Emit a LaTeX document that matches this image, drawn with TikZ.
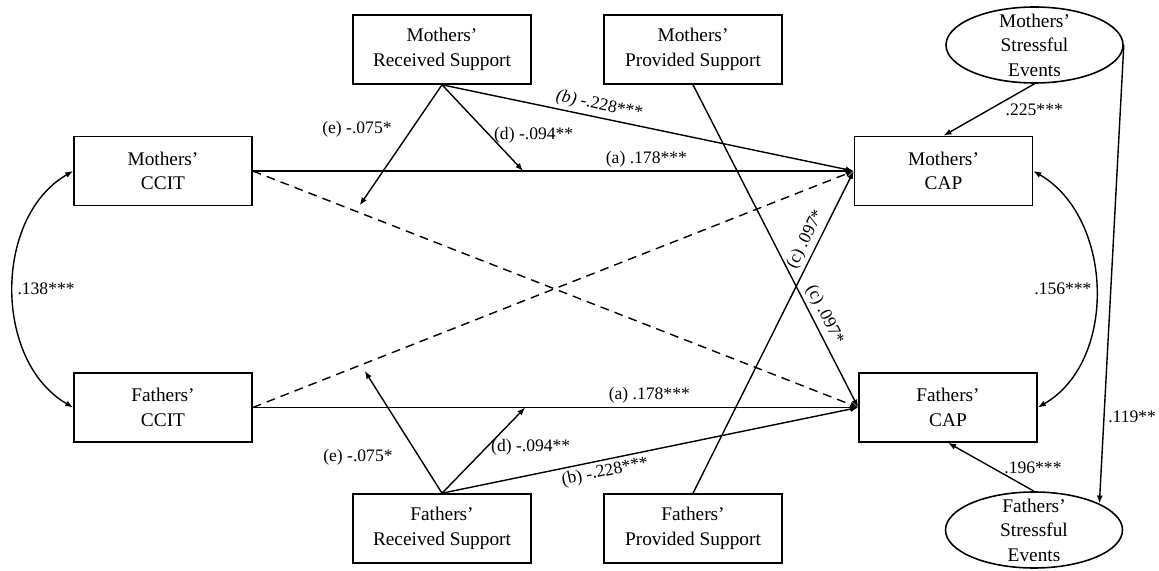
\documentclass[tikz,border=0pt]{standalone}
\usepackage{fontspec}
\setmainfont{Liberation Serif}
\usetikzlibrary{arrows.meta, positioning, calc, shapes.geometric}

\begin{document}
\begin{tikzpicture}[font=\fontsize{11}{14}\selectfont,
    eff/.style={-{Latex[length=1.6mm,width=1.2mm]}, line width=0.8pt},
    effd/.style={eff, dash pattern=on 5pt off 3.5pt},
    covar/.style={{Latex[length=1.6mm,width=1.2mm]}-{Latex[length=1.6mm,width=1.2mm]}, line width=0.8pt},
    lab/.style={font=\fontsize{10}{12}\selectfont, inner sep=2pt},
    obs/.style={draw, line width=0.9pt, align=center,
                minimum width=3.56cm, minimum height=1.38cm, inner sep=2pt},
    lat/.style={draw, ellipse, line width=0.9pt, align=center,
                minimum width=3.54cm, minimum height=1.52cm, inner sep=-6pt}]

  \useasboundingbox (0,0) rectangle (23.18,11.4);

  \node[obs] (mccit) at (3.26,7.98)   {Mothers'\\CCIT};
  \node[obs] (fccit) at (3.26,3.25)   {Fathers'\\CCIT};
  \node[obs] (mrs)   at (8.84,10.41)  {Mothers'\\Received Support};
  \node[obs] (mps)   at (13.86,10.41) {Mothers'\\Provided Support};
  \node[obs] (frs)   at (8.84,0.83)   {Fathers'\\Received Support};
  \node[obs] (fps)   at (13.86,0.83)  {Fathers'\\Provided Support};
  \node[obs] (mcap)  at (18.87,7.98)  {Mothers'\\CAP};
  \node[obs] (fcap)  at (18.96,3.25)  {Fathers'\\CAP};
  \node[lat] (mse)   at (20.69,10.5)  {Mothers'\\Stressful\\Events};
  \node[lat] (fse)   at (20.68,0.8)   {Fathers'\\Stressful\\Events};

  \coordinate (md) at ($(mccit.east)!0.45!(mcap.west)$);
  \coordinate (fd) at ($(fccit.east)!0.45!(fcap.west)$);
  \coordinate (me) at ($(mccit.east)!0.17!(fcap.west)$);
  \coordinate (fe) at ($(fccit.east)!0.18!(mcap.west)$);

  \foreach \p in {m,f}
    \draw[eff] (\p ccit.east) -- node[lab, above, pos=0.655] {(a) .178***} (\p cap.west);

  \draw[effd] (mccit.east) -- (fcap.west);
  \draw[effd] (fccit.east) -- (mcap.west);

  \draw[eff] (mrs.south) -- node[lab, above, sloped, pos=0.376] {\textit{(b)} -.228***} (mcap.west);
  \draw[eff] (frs.north) -- node[lab, below, sloped, pos=0.386] {(b) -.228***} (fcap.west);
  \draw[eff] (mrs.south) -- node[lab, right, pos=0.59] {(d) -.094**} (md);
  \draw[eff] (frs.north) -- node[lab, right, pos=0.54] {(d) -.094**} (fd);
  \draw[eff, shorten >=4pt] (mrs.south) -- node[lab, left, pos=0.35, xshift=-0.32cm] {(e) -.075*} (me);
  \draw[eff, shorten >=4pt] (frs.north) -- node[lab, left, pos=0.28, xshift=-0.45cm] {(e) -.075*} (fe);

  \draw[eff] (fps.north) -- node[lab, above, sloped, pos=0.77] {(c) .097*} (mcap.west);
  \draw[eff] (mps.south) -- node[lab, above, sloped, pos=0.73] {(c) .097*} (fcap.west);

  \draw[eff] (mse.south) -- node[lab, right, pos=0.5, xshift=0.25cm] {.225***} (mcap.north);
  \draw[eff] (fse.north) -- node[lab, right, pos=0.48, xshift=0.15cm] {.196***} (fcap.south);
  \draw[eff] (mse.east) -- node[lab, right, pos=0.81] {.119**} (fse.22);

  \draw[covar] (mccit.west) to[out=210, in=150] node[lab, right] {.138***} (fccit.west);
  \draw[covar] (mcap.east) to[out=-30, in=30] node[lab, left] {.156***} (fcap.east);
\end{tikzpicture}
\end{document}
